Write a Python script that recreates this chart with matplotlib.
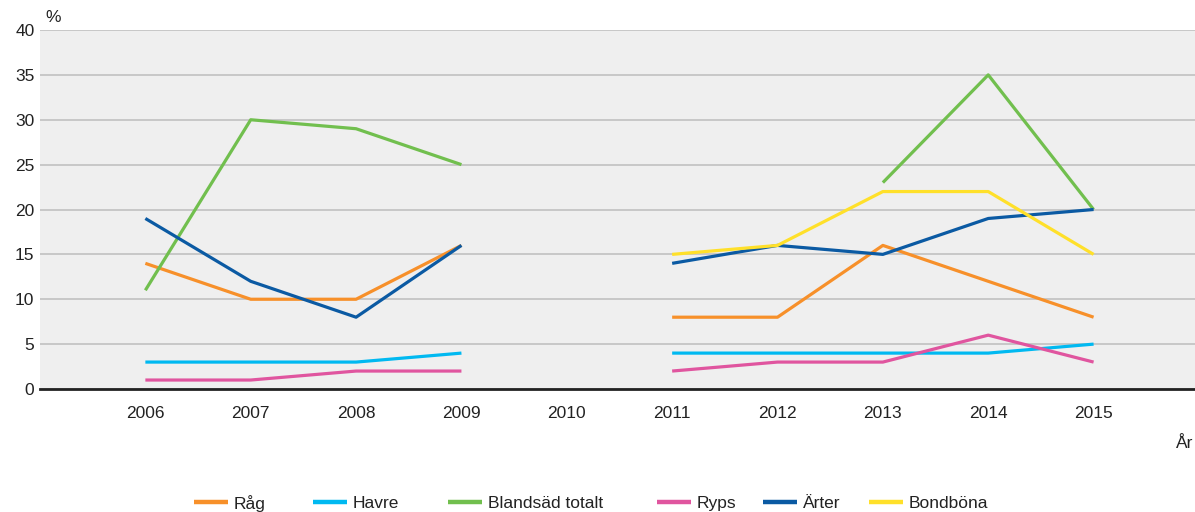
"""Andel (%) per gröda och år, linjediagram."""

import numpy as np
import matplotlib.pyplot as plt
from matplotlib.lines import Line2D

plt.rcParams["font.family"] = ["Liberation Sans", "DejaVu Sans"]

YEARS = [2006, 2007, 2008, 2009, 2010, 2011, 2012, 2013, 2014, 2015]
nan = np.nan

RAG = [14, 10, 10, 16, nan, 8, 8, 16, 12, 8]
HAVRE = [3, 3, 3, 4, nan, 4, 4, 4, 4, 5]
BLANDSAD = [11, 30, 29, 25, nan, nan, nan, 23, 35, 20]
RYPS = [1, 1, 2, 2, nan, 2, 3, 3, 6, 3]
ARTER = [19, 12, 8, 16, nan, 14, 16, 15, 19, 20]
BONDBONA = [nan, nan, nan, nan, nan, 15, 16, 22, 22, 15]

SERIES = [
    ("Råg", RAG, "#f7902a"),
    ("Havre", HAVRE, "#00b9f1"),
    ("Blandsäd totalt", BLANDSAD, "#71bf4e"),
    ("Ryps", RYPS, "#e0559f"),
    ("Ärter", ARTER, "#0b5aa3"),
    ("Bondböna", BONDBONA, "#ffe02a"),
]

# legend swatch start (px) for each entry, as laid out in the original
LEG_X = [194, 313, 448, 657, 763, 869]

TXT = "#222222"
W, H = 1195, 512

fig = plt.figure(figsize=(11.95, 5.12), dpi=100)
ax = fig.add_axes([40 / W, 1 - 389 / H, 1160 / W, 359 / H])
ax.set_facecolor("#efefef")

for name, vals, col in SERIES:
    ax.plot(YEARS, vals, color=col, lw=2.3, solid_capstyle="butt")

ax.set_xlim(2005, 2016.01)
ax.set_ylim(0, 40)
ax.set_yticks(range(0, 41, 5))
ax.set_xticks(YEARS)
ax.grid(axis="y", color="#c4c4c4", lw=1.3)
ax.set_axisbelow(True)
for s in ("left", "right", "top"):
    ax.spines[s].set_visible(False)
ax.spines["bottom"].set_color("#222222")
ax.spines["bottom"].set_linewidth(2)
ax.tick_params(axis="y", length=0, pad=4, labelsize=12.5, labelcolor=TXT)
ax.tick_params(axis="x", length=0, pad=12, labelsize=12.5, labelcolor=TXT)

fig.text(45 / W, 1 - 18 / H, "%", fontsize=12.5, color=TXT, va="center")
fig.text(1176 / W, 1 - 443 / H, "År", fontsize=12.5, color=TXT, va="center")

# hand-placed legend
ly = 1 - 502 / H
for (name, _, col), x0 in zip(SERIES, LEG_X):
    fig.add_artist(Line2D([x0 / W, (x0 + 34) / W], [ly, ly], color=col,
                          lw=3.2, solid_capstyle="butt",
                          transform=fig.transFigure))
    fig.text((x0 + 40) / W, ly, name, fontsize=12.5, color=TXT,
             va="center_baseline", ha="left")

fig.savefig("out.png", dpi=100)
